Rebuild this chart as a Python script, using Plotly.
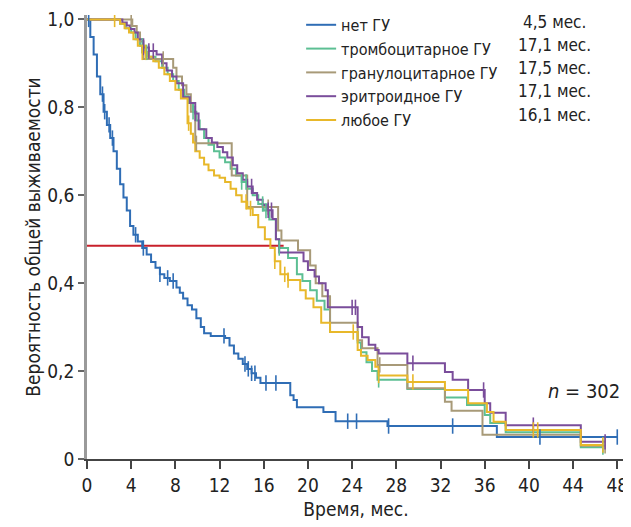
import numpy as np
import plotly.graph_objects as go

# ---------------- data ----------------
x_ticks = list(range(0, 49, 4))
y_ticks = [0, 0.2, 0.4, 0.6, 0.8, 1.0]
y_ticklabels = ["0", "0,2", "0,4", "0,6", "0,8", "1,0"]

series_names = ["нет ГУ", "тромбоцитарное ГУ", "гранулоцитарное ГУ", "эритроидное ГУ", "любое ГУ"]
median_labels = ["4,5 мес.", "17,1 мес.", "17,5 мес.", "17,1 мес.", "16,1 мес."]
colors = ["#2f6db5", "#5cbf93", "#a89a78", "#7a4d9b", "#e8b82a"]

none_t = [0, 0.3, 0.6, 0.9, 1.2, 1.5, 1.8, 2.1, 2.4, 2.7, 3.0, 3.3, 3.6, 3.9, 4.2, 4.6, 5.0, 5.4, 5.8, 6.2,
          6.6, 7.0, 7.5, 8.1, 8.4, 8.7, 9.1, 9.5, 9.9, 10.3, 10.6, 11.2, 12.5, 12.9, 13.3, 13.7, 14.1, 14.5,
          14.9, 15.3, 15.7, 18.4, 18.7, 19.0, 21.4, 22.5, 27.2, 37.1, 48.0]
none_s = [1.0, 0.96, 0.92, 0.87, 0.83, 0.79, 0.76, 0.73, 0.70, 0.66, 0.625, 0.595, 0.565, 0.53, 0.51, 0.495,
          0.48, 0.465, 0.448, 0.435, 0.42, 0.412, 0.405, 0.39, 0.378, 0.365, 0.35, 0.34, 0.32, 0.30, 0.286,
          0.28, 0.275, 0.258, 0.24, 0.228, 0.216, 0.205, 0.195, 0.185, 0.173, 0.145, 0.134, 0.118, 0.107,
          0.086, 0.075, 0.05, 0.05]
none_c = [0.15, 1.4, 1.6, 2.0, 2.3, 4.4, 5.1, 6.6, 7.3, 7.8, 12.4, 14.3, 14.6, 14.9, 15.2, 16.2, 17.1,
          23.6, 24.4, 27.3, 33.1, 41.0, 48.0]

thr_t = [0, 3.0, 3.5, 4.0, 4.4, 4.8, 5.2, 5.6, 6.2, 6.8, 7.3, 7.8, 8.3, 8.8, 9.2, 9.6, 9.9, 10.2, 10.6,
         11.0, 11.5, 12.0, 12.5, 13.0, 13.5, 14.0, 14.5, 15.0, 15.5, 16.0, 16.5, 17.1, 17.4, 18.2, 19.0,
         19.5, 20.2, 20.8, 21.5, 22.0, 24.5, 24.8, 25.3, 25.8, 26.3, 29.0, 32.4, 34.4, 36.0, 36.5, 37.9,
         44.7, 46.7]
thr_s = [1.0, 0.99, 0.98, 0.97, 0.955, 0.94, 0.925, 0.915, 0.905, 0.89, 0.875, 0.86, 0.84, 0.825, 0.81,
         0.79, 0.77, 0.75, 0.73, 0.715, 0.70, 0.686, 0.675, 0.66, 0.645, 0.63, 0.615, 0.60, 0.58, 0.565,
         0.545, 0.50, 0.48, 0.457, 0.42, 0.405, 0.384, 0.36, 0.34, 0.289, 0.265, 0.243, 0.22, 0.20, 0.18,
         0.159, 0.14, 0.123, 0.10, 0.082, 0.061, 0.027, 0.027]
thr_c = [5.0, 5.4, 9.6, 14.0, 14.4, 15.9, 16.2, 17.4, 26.4, 46.7]

gran_t = [0, 4.1, 4.5, 4.8, 5.1, 7.8, 8.1, 8.6, 9.0, 9.4, 9.8, 13.1, 14.5, 17.3, 17.6, 19.1, 20.2, 20.7,
          21.3, 22.0, 24.5, 24.9, 26.3, 29.0, 32.4, 33.0, 35.8, 44.7, 46.9]
gran_s = [1.0, 0.985, 0.97, 0.95, 0.91, 0.89, 0.87, 0.85, 0.83, 0.79, 0.718, 0.645, 0.573, 0.52, 0.497,
          0.475, 0.44, 0.40, 0.37, 0.31, 0.27, 0.252, 0.214, 0.161, 0.13, 0.11, 0.055, 0.03, 0.03]
gran_c = [4.0, 6.9, 9.9, 16.4, 26.5, 46.9]

ery_t = [0, 3.2, 3.6, 3.9, 4.3, 4.6, 5.1, 5.6, 6.3, 6.8, 7.2, 7.7, 8.1, 8.7, 9.3, 9.8, 10.1, 10.8, 11.3,
         11.8, 12.3, 12.7, 13.2, 13.6, 14.1, 14.5, 15.0, 15.4, 15.9, 16.3, 16.8, 17.1, 17.4, 19.6, 20.0,
         20.6, 21.0, 21.6, 21.8, 24.5, 24.9, 25.5, 26.1, 26.4, 29.0, 32.4, 33.1, 34.5, 36.0, 36.5, 37.9,
         44.7, 46.9]
ery_s = [1.0, 0.993, 0.986, 0.978, 0.97, 0.955, 0.936, 0.928, 0.92, 0.90, 0.884, 0.87, 0.855, 0.823, 0.81,
         0.786, 0.75, 0.73, 0.72, 0.71, 0.698, 0.686, 0.668, 0.65, 0.635, 0.62, 0.605, 0.59, 0.578, 0.566,
         0.546, 0.50, 0.47, 0.45, 0.43, 0.415, 0.40, 0.384, 0.345, 0.30, 0.277, 0.26, 0.248, 0.24, 0.218,
         0.198, 0.18, 0.157, 0.127, 0.105, 0.077, 0.039, 0.039]
ery_c = [5.1, 5.6, 6.0, 9.8, 14.9, 16.4, 16.7, 24.0, 24.3, 29.5, 35.9, 40.4, 46.9]

any_t = [0, 3.0, 3.4, 3.8, 4.2, 4.6, 5.0, 5.5, 6.0, 6.5, 7.0, 7.5, 8.0, 8.5, 9.1, 9.4, 9.6, 9.8, 10.2,
         10.6, 11.0, 11.5, 12.0, 12.5, 13.0, 13.5, 14.0, 14.5, 15.0, 15.5, 16.1, 16.6, 17.0, 17.5, 18.2,
         19.3, 19.8, 20.5, 21.2, 22.0, 24.5, 24.8, 25.4, 26.1, 26.4, 29.0, 32.4, 34.5, 36.2, 36.8, 37.9,
         44.7, 46.7]
any_s = [1.0, 0.99, 0.98, 0.97, 0.955, 0.94, 0.925, 0.915, 0.905, 0.89, 0.875, 0.86, 0.84, 0.82, 0.764,
         0.74, 0.72, 0.70, 0.685, 0.67, 0.657, 0.645, 0.64, 0.63, 0.615, 0.60, 0.585, 0.57, 0.555, 0.527,
         0.50, 0.48, 0.45, 0.42, 0.407, 0.384, 0.365, 0.345, 0.31, 0.289, 0.248, 0.235, 0.225, 0.21, 0.19,
         0.175, 0.157, 0.127, 0.107, 0.085, 0.066, 0.032, 0.032]
any_c = [2.5, 5.0, 5.3, 9.2, 14.4, 14.8, 17.0, 17.9, 18.2, 24.1, 26.4, 29.5, 40.4, 40.8, 46.7]

median_level = 0.485
median_end = 17.8
n_label = "<i>n</i> = 302"

# ---------------- figure ----------------
FONT = "DejaVu Sans Condensed, Liberation Sans Narrow, Arial Narrow, sans-serif"
series = [(none_t, none_s, none_c), (thr_t, thr_s, thr_c), (gran_t, gran_s, gran_c),
          (ery_t, ery_s, ery_c), (any_t, any_s, any_c)]

fig = go.Figure()

fig.add_shape(type="line", x0=0, x1=median_end, y0=median_level, y1=median_level,
              xref="x", yref="y", line=dict(color="#c8202b", width=2), layer="below")

for (t, s, c), name, col in zip(series, series_names, colors):
    fig.add_trace(go.Scatter(x=t, y=s, mode="lines", line=dict(color=col, width=2, shape="hv"),
                             name=name, showlegend=True))
for (t, s, c), name, col in zip(series, series_names, colors):
    ta = np.array(t)
    sa = np.array(s)
    idx = np.searchsorted(ta, np.array(c), side="right") - 1
    fig.add_trace(go.Scatter(x=c, y=sa[idx], mode="markers", showlegend=False, hoverinfo="skip",
                             marker=dict(symbol="line-ns", size=11, color=col,
                                         line=dict(color=col, width=1.6))))

row_y = [0.984, 0.932, 0.880, 0.828, 0.775]
for i, lab in enumerate(median_labels):
    fig.add_annotation(x=0.806 if i == 0 else 0.797, y=row_y[i], xref="paper", yref="paper",
                       text=lab, showarrow=False, xanchor="left", yanchor="middle",
                       font=dict(family=FONT, size=17, color="#222"))

fig.add_annotation(x=0.995, y=0.153, xref="paper", yref="paper", text=n_label, showarrow=False,
                   xanchor="right", yanchor="middle", font=dict(family=FONT, size=20, color="#222"))

# page body has an 8px default margin; figure is sized so that the plot area lands where intended
fig.update_layout(
    width=623, height=519,
    margin=dict(l=79, r=6, t=7, b=68, autoexpand=False),
    paper_bgcolor="white", plot_bgcolor="white",
    font=dict(family=FONT, size=18, color="#222"),
    legend=dict(x=0.398, y=1.016, xanchor="left", yanchor="top", bgcolor="rgba(0,0,0,0)",
                font=dict(family=FONT, size=16, color="#222"), tracegroupgap=0,
                itemwidth=30),
    xaxis=dict(range=[0, 48.7], tickvals=x_ticks, ticks="outside", ticklen=8, tickwidth=1.5,
               tickcolor="#444", showline=True, linecolor="#444", linewidth=1.5, showgrid=False,
               zeroline=False, tickfont=dict(family=FONT, size=19), automargin=False,
               title=dict(text="Время, мес.", font=dict(family=FONT, size=19), standoff=8)),
    yaxis=dict(range=[0, 1.01], tickvals=y_ticks, ticktext=y_ticklabels, ticks="outside", ticklen=6,
               tickwidth=1.5, tickcolor="#666", showline=True, linecolor="#9a9a9a", linewidth=2.5,
               showgrid=False, zeroline=False, tickfont=dict(family=FONT, size=19), automargin=False,
               title=dict(text="Вероятность общей выживаемости", font=dict(family=FONT, size=19),
                          standoff=2)),
)

fig.write_html("out.html")
